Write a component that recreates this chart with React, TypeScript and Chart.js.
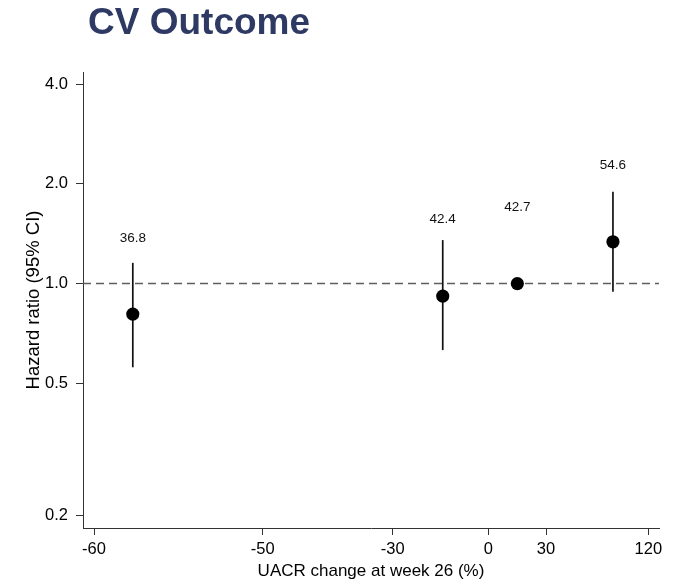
import React, { useEffect, useRef } from "react";
import { Chart, registerables } from "chart.js";

Chart.register(...registerables);

// ---- Data ----
const chartTitle = "CV Outcome";
const uacrChange = [-57.7, -14.3, 15.1, 88.9];
const hazardRatio = [0.809, 0.917, 1.0, 1.337];
const ciLower: (number | null)[] = [0.559, 0.63, null, 0.945];
const ciUpper: (number | null)[] = [1.155, 1.353, null, 1.892];
const eventLabels = ["36.8", "42.4", "42.7", "54.6"];
const labelAtHR = [1.37, 1.56, 1.705, 2.28];

const xTickValues = [-60, -50, -30, 0, 30, 120];
// axis transform: position of each tick value along the (non-linear) x-axis
const xTickAnchors = [1.1, 17.97, 30.97, 40.53, 46.3, 56.53];
const xAxisMin = 0;
const xAxisMax = 57.6;

const yTickValues = [0.2, 0.5, 1.0, 2.0, 4.0];
const yMin = 0.183;
const yMax = 4.35;
const referenceHR = 1.0;

const FONT = "'Liberation Sans', Arial, Helvetica, sans-serif";

function xTransform(v: number): number {
  const t = xTickValues;
  const a = xTickAnchors;
  let i = 0;
  if (v <= t[0]) i = 0;
  else if (v >= t[t.length - 1]) i = t.length - 2;
  else {
    while (i < t.length - 2 && v > t[i + 1]) i++;
  }
  const f = (v - t[i]) / (t[i + 1] - t[i]);
  return a[i] + f * (a[i + 1] - a[i]);
}

const overlayPlugin = {
  id: "overlay",
  beforeDatasetsDraw(chart: any) {
    const { ctx, chartArea, scales } = chart;
    const xs = scales.x;
    const ys = scales.y;
    ctx.save();
    // reference line
    const yRef = ys.getPixelForValue(referenceHR);
    ctx.strokeStyle = "#5e5e5e";
    ctx.lineWidth = 1.5;
    ctx.setLineDash([8, 5]);
    ctx.beginPath();
    ctx.moveTo(chartArea.left, yRef);
    ctx.lineTo(chartArea.right, yRef);
    ctx.stroke();
    ctx.setLineDash([]);
    // CI bars
    ctx.strokeStyle = "#111";
    ctx.lineWidth = 1.7;
    uacrChange.forEach((u, i) => {
      const lo = ciLower[i];
      const hi = ciUpper[i];
      if (lo == null || hi == null) return;
      const px = xs.getPixelForValue(xTransform(u));
      ctx.beginPath();
      ctx.moveTo(px, ys.getPixelForValue(lo));
      ctx.lineTo(px, ys.getPixelForValue(hi));
      ctx.stroke();
    });
    ctx.restore();
  },
  afterDatasetsDraw(chart: any) {
    const { ctx, scales } = chart;
    const xs = scales.x;
    const ys = scales.y;
    ctx.save();
    ctx.fillStyle = "#111";
    ctx.font = `13.5px ${FONT}`;
    ctx.textAlign = "center";
    ctx.textBaseline = "middle";
    uacrChange.forEach((u, i) => {
      ctx.fillText(
        eventLabels[i],
        xs.getPixelForValue(xTransform(u)),
        ys.getPixelForValue(labelAtHR[i])
      );
    });
    ctx.restore();
  },
  afterDraw(chart: any) {
    const { ctx } = chart;
    ctx.save();
    ctx.fillStyle = "#2e3a64";
    ctx.font = `bold 37px ${FONT}`;
    ctx.textAlign = "left";
    ctx.textBaseline = "alphabetic";
    ctx.fillText(chartTitle, 88, 34);
    ctx.restore();
  },
};

export default function App() {
  const ref = useRef<HTMLCanvasElement | null>(null);
  useEffect(() => {
    if (!ref.current) return;
    const chart = new Chart(ref.current, {
      type: "scatter",
      data: {
        datasets: [
          {
            data: uacrChange.map((u, i) => ({ x: xTransform(u), y: hazardRatio[i] })),
            pointRadius: 6.6,
            pointHoverRadius: 6.6,
            backgroundColor: "#000",
            borderWidth: 0,
          },
        ],
      },
      options: {
        responsive: false,
        animation: false,
        events: [],
        layout: { padding: { top: 72, right: 15, left: 0, bottom: 0 } },
        plugins: {
          legend: { display: false },
          tooltip: { enabled: false },
          title: { display: false },
        },
        scales: {
          x: {
            type: "linear",
            min: xAxisMin,
            max: xAxisMax,
            afterBuildTicks(scale: any) {
              scale.ticks = xTickAnchors.map((v) => ({ value: v }));
            },
            afterFit(scale: any) {
              scale.height = 55;
            },
            ticks: {
              autoSkip: false,
              maxRotation: 0,
              padding: 5,
              color: "#000",
              font: { family: FONT, size: 16.5 },
              callback: (_v: any, i: number) => String(xTickValues[i]),
            },
            grid: {
              drawOnChartArea: false,
              drawTicks: true,
              tickLength: 7,
              color: "#333",
              lineWidth: 1,
            },
            border: { display: true, color: "#333", width: 1 },
            title: {
              display: true,
              text: "UACR change at week 26 (%)",
              color: "#000",
              font: { family: FONT, size: 17 },
              padding: { top: 0, bottom: 1 },
            },
          },
          y: {
            type: "logarithmic",
            min: yMin,
            max: yMax,
            afterBuildTicks(scale: any) {
              scale.ticks = yTickValues.map((v) => ({ value: v }));
            },
            afterFit(scale: any) {
              scale.width = 83;
            },
            ticks: {
              autoSkip: false,
              padding: 8,
              color: "#000",
              font: { family: FONT, size: 16.5 },
              callback: (v: any) => Number(v).toFixed(1),
            },
            grid: {
              drawOnChartArea: false,
              drawTicks: true,
              tickLength: 7,
              color: "#333",
              lineWidth: 1,
            },
            border: { display: true, color: "#333", width: 1 },
            title: {
              display: true,
              text: "Hazard ratio (95% CI)",
              color: "#000",
              font: { family: FONT, size: 18.5 },
              padding: { top: 23, bottom: 0 },
            },
          },
        },
      },
      plugins: [overlayPlugin],
    } as any);
    return () => chart.destroy();
  }, []);
  return (
    <div style={{ position: "absolute", left: 0, top: 0, width: 674, height: 583, background: "#fff" }}>
      <canvas ref={ref} width={674} height={583} style={{ display: "block" }} />
    </div>
  );
}
